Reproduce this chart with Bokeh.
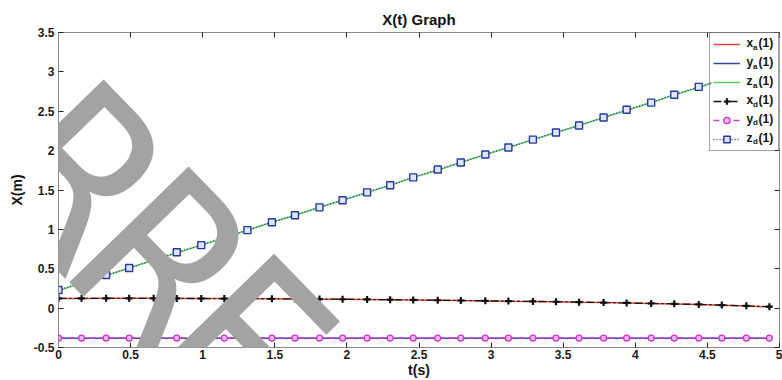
import math
from bokeh.plotting import figure
from bokeh.models import (Range1d, LinearAxis, FixedTicker, Label, Legend, LegendItem,
                          CustomJSTickFormatter, BoxAnnotation)
from bokeh.embed import file_html
from bokeh.resources import INLINE

# ---------------- data ----------------
t = [0.00, 0.16, 0.33, 0.49, 0.66, 0.82, 0.99, 1.15, 1.31, 1.48, 1.64, 1.81, 1.97, 2.14, 2.30, 2.46,
     2.63, 2.79, 2.96, 3.12, 3.29, 3.45, 3.61, 3.78, 3.94, 4.11, 4.27, 4.44, 4.60, 4.77, 4.93]
x_a = [0.122, 0.123, 0.124, 0.125, 0.124, 0.122, 0.121, 0.121, 0.119, 0.118, 0.117, 0.114, 0.112, 0.110, 0.106, 0.103,
       0.100, 0.096, 0.092, 0.088, 0.084, 0.080, 0.075, 0.070, 0.065, 0.059, 0.053, 0.046, 0.038, 0.028, 0.015]
y_a = [-0.381, -0.381, -0.381, -0.381, -0.381, -0.381, -0.381, -0.381, -0.381, -0.381, -0.381, -0.381, -0.381, -0.381, -0.381, -0.381,
       -0.381, -0.381, -0.381, -0.381, -0.381, -0.381, -0.381, -0.381, -0.381, -0.381, -0.381, -0.381, -0.381, -0.381, -0.381]
z_a = [0.22, 0.32, 0.41, 0.51, 0.61, 0.70, 0.80, 0.89, 0.99, 1.09, 1.18, 1.28, 1.37, 1.47, 1.56, 1.66,
       1.75, 1.85, 1.95, 2.04, 2.14, 2.23, 2.32, 2.42, 2.51, 2.61, 2.71, 2.80, 2.90, 2.99, 3.09]
x_d = [0.125, 0.125, 0.125, 0.124, 0.124, 0.123, 0.122, 0.121, 0.120, 0.119, 0.117, 0.115, 0.113, 0.110, 0.107, 0.104,
       0.100, 0.097, 0.093, 0.089, 0.085, 0.081, 0.076, 0.071, 0.066, 0.060, 0.054, 0.047, 0.039, 0.029, 0.018]
y_d = [-0.38, -0.38, -0.38, -0.38, -0.38, -0.38, -0.38, -0.38, -0.38, -0.38, -0.38, -0.38, -0.38, -0.38, -0.38, -0.38,
       -0.38, -0.38, -0.38, -0.38, -0.38, -0.38, -0.38, -0.38, -0.38, -0.38, -0.38, -0.38, -0.38, -0.38, -0.38]
z_d = [0.23, 0.32, 0.42, 0.51, 0.61, 0.71, 0.80, 0.90, 0.99, 1.09, 1.18, 1.28, 1.37, 1.47, 1.56, 1.66,
       1.76, 1.85, 1.95, 2.04, 2.14, 2.23, 2.32, 2.42, 2.52, 2.61, 2.71, 2.81, 2.90, 3.00, 3.09]
x_ticks = [0, 0.5, 1, 1.5, 2, 2.5, 3, 3.5, 4, 4.5, 5]
y_ticks = [-0.5, 0, 0.5, 1, 1.5, 2, 2.5, 3, 3.5]
legend_base = ["x", "y", "z", "x", "y", "z"]
legend_sub = ["a", "a", "a", "d", "d", "d"]
legend_tail = "(1)"
title = "X(t) Graph"
xlabel = "t(s)"
ylabel = "X(m)"
watermark = "CORRECTED"

# ---------------- layout constants ----------------
W, H = 782, 380
FL, FR, FT, FB = 58, 779, 32, 349
X0, X1, Y0, Y1 = 0, 5, -0.5, 3.5
FONT = "Liberation Sans"


def sx(px):
    return X0 + (px - FL) / (FR - FL) * (X1 - X0)


def sy(py):
    return Y0 + (FB - py) / (FB - FT) * (Y1 - Y0)


p = figure(width=W, height=H, output_backend="svg", toolbar_location=None,
           x_range=Range1d(X0, X1), y_range=Range1d(Y0, Y1),
           min_border_left=FL, min_border_right=W - FR, min_border_top=FT, min_border_bottom=H - FB,
           background_fill_color="white", border_fill_color="white")
p.title.text = title
p.title.align = "center"
p.title.text_font = FONT
p.title.text_font_size = "15px"
p.title.text_font_style = "bold"
p.title.text_color = "#111111"
p.grid.visible = False
p.outline_line_color = "#8a8a8a"

fmt = CustomJSTickFormatter(code="return String(tick);")
for ax, ticks in ((p.xaxis[0], x_ticks), (p.yaxis[0], y_ticks)):
    ax.ticker = FixedTicker(ticks=ticks)
    ax.formatter = fmt
    ax.major_tick_in = 5
    ax.major_tick_out = 0
    ax.minor_tick_line_color = None
    ax.axis_line_color = "#8a8a8a"
    ax.major_tick_line_color = "#222222"
    ax.major_label_text_font = FONT
    ax.major_label_text_font_style = "bold"
    ax.major_label_text_font_size = "12px"
    ax.major_label_text_color = "#1a1a1a"
    ax.axis_label_text_font = FONT
    ax.axis_label_text_font_style = "bold"
    ax.axis_label_text_font_size = "14px"
    ax.axis_label_text_color = "#111111"
p.xaxis[0].major_label_standoff = 2
p.xaxis[0].axis_label = xlabel
p.xaxis[0].axis_label_standoff = 0
p.yaxis[0].major_label_standoff = 4
p.yaxis[0].axis_label = ylabel
p.yaxis[0].axis_label_standoff = 6

for loc, ticks in (("above", x_ticks), ("right", y_ticks)):
    ax2 = LinearAxis(ticker=FixedTicker(ticks=ticks), major_label_text_font_size="0px",
                     major_label_standoff=0, major_tick_in=5, major_tick_out=0,
                     minor_tick_line_color=None, axis_line_color=None,
                     major_tick_line_color="#222222")
    p.add_layout(ax2, loc)

# ---------------- series ----------------
r_za = p.line(t, z_a, line_color="#5fcf5f", line_width=1.5)
r_xa = p.line(t, x_a, line_color="#e0443c", line_width=1.5)
r_ya = p.line(t, y_a, line_color="#3a4590", line_width=1.5)

r_xd_l = p.line(t, x_d, line_color="#111111", line_width=1.3, line_dash="8 3 2 3")
r_xd_m = p.scatter(t, x_d, marker="cross", size=7, line_color="#111111", line_width=2.2)
r_yd_l = p.line(t, y_d, line_color="#d23cd2", line_width=1.5, line_dash="6 4")
r_yd_m = p.scatter(t, y_d, marker="circle", size=6, fill_color="#efb5ef", line_color="#cc33cc", line_width=1.3)
r_zd_l = p.line(t, z_d, line_color="#2a3a90", line_width=1.3, line_dash="1 2")
r_zd_m = p.scatter(t, z_d, marker="square", size=7, fill_color="#dfe5ff", line_color="#27389a", line_width=1.4)

# ---------------- watermark (drawn over the data, below the legend) ----------------
theta = 0.80
bx, by = math.cos(theta), math.sin(theta)
ecx, ecy = 242, 348                      # centre of the 5th letter, in pixels
gaps = [155, 155, 122, 116, 124, 124, 110, 124]   # centre-to-centre spacing along the baseline
offs = [0.0]
for g in gaps:
    offs.append(offs[-1] + g)
for k, ch in enumerate(watermark):
    d = offs[k] - offs[4]
    cx = ecx + d * bx
    cy = ecy + d * by
    p.add_layout(Label(x=sx(cx), y=sy(cy), text=ch, angle=-theta,
                       text_font="DejaVu Sans Condensed, Liberation Sans", text_font_size="228px",
                       text_color="#a3a3a3", text_baseline="middle", text_align="center"))

# ---------------- legend ----------------
LG_L, LG_T, LG_B = 711, 32, 149
p.add_layout(BoxAnnotation(left=sx(LG_L), right=sx(FR), top=sy(LG_T), bottom=sy(LG_B),
                           fill_color="white", fill_alpha=1.0, line_color=None))

row_py = [43, 62, 81, 100, 119, 138]
for base, sub, py in zip(legend_base, legend_sub, row_py):
    p.add_layout(Label(x=sx(746), y=sy(py), text=base, text_font=FONT, text_font_style="bold",
                       text_font_size="12px", text_baseline="middle", text_color="#111111"))
    p.add_layout(Label(x=sx(752.5), y=sy(py + 4), text=sub, text_font=FONT, text_font_style="bold",
                       text_font_size="8px", text_baseline="middle", text_color="#111111"))
    p.add_layout(Label(x=sx(758), y=sy(py), text=legend_tail, text_font=FONT, text_font_style="bold",
                       text_font_size="12px", text_baseline="middle", text_color="#111111"))

legend = Legend(items=[
    LegendItem(label=" ", renderers=[r_xa]),
    LegendItem(label=" ", renderers=[r_ya]),
    LegendItem(label=" ", renderers=[r_za]),
    LegendItem(label=" ", renderers=[r_xd_l, r_xd_m]),
    LegendItem(label=" ", renderers=[r_yd_l, r_yd_m]),
    LegendItem(label=" ", renderers=[r_zd_l, r_zd_m]),
], location="top_right", margin=0, padding=3, spacing=3, glyph_width=27, glyph_height=16,
    label_width=33, label_standoff=2, label_text_font_size="11px",
    border_line_color="#444444", border_line_width=1, background_fill_alpha=0.0)
p.add_layout(legend)

open("out.html", "w").write(file_html(p, INLINE))
